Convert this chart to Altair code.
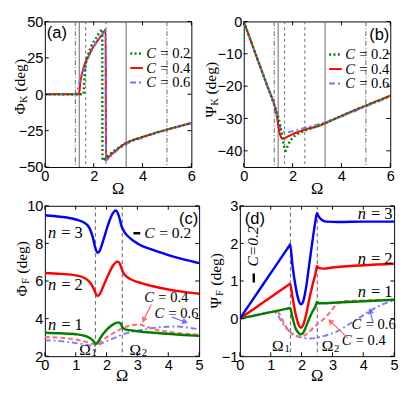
import math
import altair as alt
import pandas as pd

# ---------------- data ----------------
# vertical guide lines in (a) and (b)
K_DASHDOT = [1.25, 5.0]
K_SOLID = [1.41, 3.33]
K_DASHED = [1.67, 2.5]
# Omega_1 and Omega_2 in (c) and (d)
F_DASHED = [1.64, 2.51]

# (a) Phi_K
A_X_C02 = [0, 1.58, 1.60, 1.62, 1.67, 1.77, 1.9, 2.1, 2.29, 2.35, 2.36, 2.5, 2.6, 3.0, 3.3, 3.6, 4.0, 4.5, 5.0, 5.5, 6.0]
A_Y_C02 = [0, 0, 4, 10, 19.6, 27, 33, 38.6, 43.5, 44.5, -45.5, -43.5, -42, -37, -33.8, -31.6, -29.4, -26.7, -24.3, -22, -19.8]
A_X_C04 = [0, 1.40, 1.45, 1.52, 1.6, 1.7, 1.77, 1.9, 2.1, 2.29, 2.42, 2.49, 2.50, 2.6, 2.8, 3.0, 3.3, 3.6, 4.0, 4.5, 5.0, 5.5, 6.0]
A_Y_C04 = [0, 0, 8, 14, 19, 23.5, 25.5, 30, 35.4, 39.8, 42.8, 44.5, -45.5, -43.5, -40.2, -37.4, -33.8, -31.6, -29.4, -26.7, -24.3, -22, -19.8]
A_X_C06 = [0, 1.26, 1.32, 1.39, 1.45, 1.52, 1.6, 1.7, 1.8, 1.9, 2.1, 2.29, 2.42, 2.49, 2.50, 2.6, 2.8, 3.0, 3.3, 3.6, 4.0, 4.5, 5.0, 5.5, 6.0]
A_Y_C06 = [0, 0, 3, 6.5, 10, 14, 17.5, 22, 26, 29.5, 35, 39.6, 42.8, 44.5, -45.5, -44, -41, -38.2, -34.7, -32.2, -29.8, -27, -24.5, -22.2, -20.1]

# (b) Psi_K
B_X_C02 = [0, 0.5, 1.0, 1.28, 1.41, 1.5, 1.6, 1.66, 1.72, 1.8, 1.9, 2.0, 2.2, 2.5, 3.0, 3.4, 4.0, 4.5, 5.0, 5.5, 6.0]
B_Y_C02 = [0, -10.4, -20.7, -26.5, -29.5, -32.5, -36.5, -39, -40, -38.5, -37, -36, -34.8, -33.8, -32.4, -31.2, -29.2, -27.6, -26, -24.5, -22.9]
B_X_C04 = [0, 0.5, 1.0, 1.28, 1.36, 1.43, 1.5, 1.6, 1.7, 1.85, 2.0, 2.3, 2.6, 3.0, 3.4, 4.0, 4.5, 5.0, 5.5, 6.0]
B_Y_C04 = [0, -10.4, -20.7, -26.5, -29.5, -33, -35.3, -36.3, -36, -35.4, -34.8, -34, -33.2, -32.5, -31.3, -29.2, -27.6, -26, -24.5, -22.9]
B_X_C06 = [0, 0.5, 1.0, 1.28, 1.38, 1.46, 1.55, 1.65, 1.8, 2.0, 2.3, 2.6, 3.0, 3.4, 4.0, 4.5, 5.0, 5.5, 6.0]
B_Y_C06 = [0, -10.4, -20.7, -26.5, -29.5, -32, -33.6, -34.2, -34.2, -33.9, -33.3, -32.6, -31.9, -31, -29.4, -27.9, -26.3, -24.8, -23.2]

# (c) Phi_F
C_X_N3 = [0, 0.5, 1.0, 1.3, 1.45, 1.55, 1.62, 1.71, 1.78, 1.9, 2.05, 2.2, 2.3, 2.4, 2.48, 2.58, 2.75, 3.0, 3.5, 4.0, 4.5, 5.0]
C_Y_N3 = [9.5, 9.42, 9.27, 9.08, 8.8, 8.35, 7.85, 7.5, 7.62, 8.2, 9.0, 9.6, 9.75, 9.45, 8.95, 8.6, 8.3, 8.0, 7.65, 7.38, 7.15, 6.95]
C_X_N2 = [0, 0.5, 1.0, 1.3, 1.45, 1.55, 1.62, 1.7, 1.78, 1.9, 2.05, 2.2, 2.36, 2.45, 2.52, 2.6, 2.75, 3.0, 3.5, 4.0, 4.5, 5.0]
C_Y_N2 = [6.43, 6.38, 6.3, 6.15, 5.95, 5.7, 5.45, 5.2, 5.3, 5.75, 6.3, 6.8, 7.03, 6.85, 6.5, 6.3, 6.12, 5.95, 5.72, 5.55, 5.42, 5.32]
C_X_N1 = [0, 0.5, 1.0, 1.3, 1.45, 1.55, 1.65, 1.72, 1.8, 2.0, 2.2, 2.38, 2.46, 2.53, 2.6, 3.0, 3.5, 4.0, 4.5, 5.0]
C_Y_N1 = [3.25, 3.22, 3.17, 3.08, 2.97, 2.85, 2.65, 2.75, 2.98, 3.4, 3.68, 3.8, 3.72, 3.5, 3.43, 3.33, 3.25, 3.19, 3.13, 3.08]
C_X_C04 = [0, 0.5, 1.0, 1.3, 1.5, 1.64, 1.75, 1.9, 2.1, 2.3, 2.5, 2.75, 3.05, 3.25, 3.5, 4.0, 4.5, 5.0]
C_Y_C04 = [3.02, 2.98, 2.88, 2.78, 2.68, 2.62, 2.7, 2.88, 3.1, 3.3, 3.48, 3.62, 3.68, 3.6, 3.45, 3.3, 3.2, 3.14]
C_X_C06 = [0, 0.5, 1.0, 1.3, 1.5, 1.65, 1.8, 2.0, 2.3, 2.5, 3.0, 3.5, 4.0, 4.3, 4.6, 5.0]
C_Y_C06 = [2.85, 2.8, 2.7, 2.62, 2.57, 2.55, 2.65, 2.8, 3.0, 3.15, 3.35, 3.5, 3.57, 3.58, 3.53, 3.43]

# (d) Psi_F
D_X_N3 = [0, 0.5, 1.0, 1.5, 1.6, 1.63, 1.7, 1.8, 1.9, 1.98, 2.06, 2.15, 2.25, 2.35, 2.45, 2.5, 2.55, 2.65, 2.8, 3.2, 4.0, 5.0]
D_Y_N3 = [0, 0.604, 1.209, 1.813, 1.934, 1.97, 1.45, 0.88, 0.5, 0.38, 0.48, 0.85, 1.45, 2.05, 2.6, 2.8, 2.72, 2.63, 2.58, 2.57, 2.58, 2.58]
D_X_N2 = [0, 0.5, 1.0, 1.5, 1.6, 1.63, 1.7, 1.8, 1.9, 1.98, 2.06, 2.15, 2.25, 2.35, 2.45, 2.5, 2.55, 2.7, 3.0, 4.0, 5.0]
D_Y_N2 = [0, 0.285, 0.57, 0.856, 0.913, 0.93, 0.6, 0.15, -0.15, -0.24, -0.15, 0.12, 0.52, 0.88, 1.2, 1.4, 1.35, 1.33, 1.36, 1.42, 1.46]
D_X_N1 = [0, 0.5, 1.0, 1.5, 1.6, 1.63, 1.7, 1.8, 1.9, 1.97, 2.06, 2.15, 2.25, 2.35, 2.45, 2.5, 2.55, 2.7, 3.0, 4.0, 5.0]
D_Y_N1 = [0, 0.086, 0.172, 0.258, 0.275, 0.28, 0.05, -0.25, -0.38, -0.42, -0.37, -0.2, 0.0, 0.18, 0.33, 0.44, 0.41, 0.41, 0.42, 0.46, 0.5]
D_X_C04 = [0, 0.5, 1.0, 1.2, 1.3, 1.47, 1.62, 1.8, 2.0, 2.15, 2.34, 2.55, 2.75, 2.95, 3.17, 3.32, 3.6, 4.0, 5.0]
D_Y_C04 = [0, 0.086, 0.172, 0.2, 0.1, -0.19, -0.35, -0.46, -0.48, -0.42, -0.28, -0.12, 0.01, 0.2, 0.4, 0.46, 0.47, 0.48, 0.5]
D_X_C06 = [0, 0.5, 1.0, 1.1, 1.2, 1.35, 1.5, 1.7, 1.9, 2.1, 2.3, 2.6, 2.9, 3.2, 3.5, 3.86, 4.2, 4.5, 4.75, 5.0]
D_Y_C06 = [0, 0.086, 0.172, 0.18, 0.12, -0.08, -0.25, -0.4, -0.48, -0.52, -0.53, -0.49, -0.42, -0.32, -0.17, 0.01, 0.2, 0.33, 0.42, 0.49]

# tick values
K_XTICKS = [0, 2, 4, 6]
A_YTICKS = [-50, -25, 0, 25, 50]
B_YTICKS = [-40, -30, -20, -10, 0]
F_XTICKS = [0, 1, 2, 3, 4, 5]
C_YTICKS = [2, 4, 6, 8, 10]
D_YTICKS = [-1, 0, 1, 2, 3]

# annotation texts (data coordinates); each label = italic symbol + upright rest
LEGEND_VALUES = ["= 0.2", "= 0.4", "= 0.6"]
C_N_REST = ["= 3", "= 2", "= 1"]
C_N_X = [0.1, 0.1, 0.1]
C_N_Y = [8.54, 5.78, 3.67]
C_C_REST = ["= 0.2", "= 0.4", "= 0.6"]
C_C_X = [3.22, 3.22, 3.55]
C_C_Y = [8.54, 5.12, 4.3]
C_OM_X = [1.3, 2.93]
C_OM_Y = [2.34, 2.34]
D_N_REST = ["= 3", "= 2", "= 1"]
D_N_X = [4.95, 4.95, 4.95]
D_N_Y = [2.78, 1.58, 0.71]
D_C_REST = ["= 0.6", "= 0.4"]
D_C_X = [3.62, 3.3]
D_C_Y = [-0.16, -0.57]
D_OM_X = [1.23, 2.84]
D_OM_Y = [-0.73, -0.73]

# ---------------- styling ----------------
SERIF = "Liberation Serif"
SANS = "Liberation Sans"
GREEN = "#008000"
RED = "#ff0000"
BLUE = "#0000ff"
LRED = "#ff7070"
LBLUE = "#6f6fff"
GRAY = "#808080"
DOT = [2, 2.5]
DASHDOT = [6, 3, 2, 3]
DASH = [5, 3]

WA, HA = 151, 150
WB = 151
WC, HC = 159, 155
WD = 159

ONE = pd.DataFrame({"k": [0]})
EM_C, EM_N = 0.667, 0.5        # italic glyph widths (em)
GAP = 0.3                        # space around '=' (em)


def rest_width(s):
    w = {"=": 0.564, " ": 0.25, ".": 0.25}
    return sum(w.get(ch, 0.5) for ch in s)


def xenc(dom, ticks, field="x"):
    return alt.X(f"{field}:Q", scale=alt.Scale(domain=dom, nice=False, zero=False),
                 axis=alt.Axis(values=ticks, title=None, ticks=False, domain=False, grid=False,
                               labelFont=SANS, labelFontSize=15, labelColor="black",
                               labelPadding=2, labelOverlap=False, labelFlush=False))


def yenc(dom, ticks, field="y"):
    return alt.Y(f"{field}:Q", scale=alt.Scale(domain=dom, nice=False, zero=False),
                 axis=alt.Axis(values=ticks, title=None, ticks=False, domain=False, grid=False,
                               labelFont=SANS, labelFontSize=15, labelColor="black",
                               labelPadding=2, labelOverlap=False, labelFlush=False))


def curve(xs, ys, ex, ey, color, width, dash=None, opacity=1.0):
    props = dict(color=color, strokeWidth=width, interpolate="monotone", opacity=opacity, clip=True)
    if dash:
        props["strokeDash"] = dash
    return alt.Chart(pd.DataFrame({"x": xs, "y": ys})).mark_line(**props).encode(x=ex, y=ey)


def vlines(vals, ex, dash=None, color=GRAY, width=1.2):
    props = dict(color=color, strokeWidth=width)
    if dash:
        props["strokeDash"] = dash
    return alt.Chart(pd.DataFrame({"x": vals})).mark_rule(**props).encode(x=ex)


def inward_ticks(xdom, xticks, ydom, yticks, W, H, L=4):
    ext = xenc(xdom, xticks, "t")
    eyt = yenc(ydom, yticks, "t")
    dx = pd.DataFrame({"t": xticks})
    dy = pd.DataFrame({"t": yticks})
    m = dict(color="black", strokeWidth=1)
    return [
        alt.Chart(dx).mark_rule(**m).encode(x=ext, y=alt.value(H), y2=alt.value(H - L)),
        alt.Chart(dx).mark_rule(**m).encode(x=ext, y=alt.value(0), y2=alt.value(L)),
        alt.Chart(dy).mark_rule(**m).encode(y=eyt, x=alt.value(0), x2=alt.value(L)),
        alt.Chart(dy).mark_rule(**m).encode(y=eyt, x=alt.value(W), x2=alt.value(W - L)),
    ]


def ptext(t, x, y, **props):
    base = dict(font=SERIF, fontSize=16, color="black", align="center", baseline="middle")
    base.update(props)
    return alt.Chart(ONE).mark_text(text=t, **base).encode(x=alt.value(x), y=alt.value(y))


def dtext(labels, xs, ys, ex, ey, **props):
    base = dict(font=SERIF, fontSize=16, color="black", align="left", baseline="middle")
    base.update(props)
    df = pd.DataFrame({"x": xs, "y": ys, "t": labels})
    return alt.Chart(df).mark_text(**base).encode(x=ex, y=ey, text="t:N")


def sym_labels(sym, rests, xs, ys, ex, ey, size, align="left"):
    """italic symbol followed by upright '= value', placed at data coordinates"""
    em_sym = EM_C if sym == "C" else EM_N
    out = []
    if align == "left":
        out.append(dtext([sym] * len(rests), xs, ys, ex, ey, fontSize=size, fontStyle="italic"))
        out.append(dtext(rests, xs, ys, ex, ey, fontSize=size, dx=(em_sym + GAP) * size))
    else:
        out.append(dtext(rests, xs, ys, ex, ey, fontSize=size, align="right"))
        for r, x, y in zip(rests, xs, ys):
            out.append(dtext([sym], [x], [y], ex, ey, fontSize=size, fontStyle="italic",
                             align="right", dx=-(rest_width(r) + GAP) * size))
    return out


def ytitle(main, sub, cx, cy):
    return [
        ptext(main, cx, cy + 22.5, angle=270, fontSize=16),
        ptext(sub, cx + 4, cy + 12.5, angle=270, fontSize=11),
        ptext("(deg)", cx, cy - 12, angle=270, fontSize=16),
    ]


def omega_labels(xs, ys, ex, ey):
    return [
        dtext(["Ω", "Ω"], xs, ys, ex, ey, align="center", fontSize=16),
        dtext(["1", "2"], xs, ys, ex, ey, align="left", fontSize=11, dx=6.8, dy=3),
    ]


def legend(W, entries, y0, step, size=15):
    out = []
    for i, (val, col, dash, w) in enumerate(entries):
        y = y0 + step * i
        props = dict(color=col, strokeWidth=w)
        if dash:
            props["strokeDash"] = dash
        rw = rest_width(val) * size
        out.append(alt.Chart(ONE).mark_rule(**props).encode(
            x=alt.value(W - 63), x2=alt.value(W - 50), y=alt.value(y)))
        out.append(ptext(val, W - 1, y, align="right", fontSize=size))
        out.append(ptext("C", W - 1 - rw - GAP * size, y, align="right", fontSize=size,
                         fontStyle="italic"))
    return out


def arrow(x1, y1, x2, y2, ex, ey, color, kx, ky):
    df = pd.DataFrame({"x": [x1], "y": [y1], "x2": [x2], "y2": [y2]})
    rule = alt.Chart(df).mark_rule(color=color, strokeWidth=1.3).encode(
        x=ex, y=ey, x2=alt.X2("x2"), y2=alt.Y2("y2"))
    dxs = (x2 - x1) * kx
    dys = -(y2 - y1) * ky
    ang = math.degrees(math.atan2(dxs, -dys)) % 360
    head = alt.Chart(pd.DataFrame({"x": [x2], "y": [y2]})).mark_point(
        shape="triangle-up", filled=True, size=45, color=color, opacity=1, angle=ang
    ).encode(x=ex, y=ey)
    return [rule, head]


LEG = [(LEGEND_VALUES[0], GREEN, DOT, 2.5), (LEGEND_VALUES[1], RED, None, 2),
       (LEGEND_VALUES[2], LBLUE, DASHDOT, 2)]

# ---------------- panel (a) ----------------
exA = xenc([0, 6], K_XTICKS)
eyA = yenc([-50, 50], A_YTICKS)
pa = alt.layer(
    vlines(K_DASHDOT, exA, [5, 2, 1, 2]),
    vlines(K_SOLID, exA),
    vlines(K_DASHED, exA, [3, 3]),
    curve(A_X_C04, A_Y_C04, exA, eyA, RED, 2),
    curve(A_X_C06, A_Y_C06, exA, eyA, LBLUE, 2, DASHDOT, 0.9),
    curve(A_X_C02, A_Y_C02, exA, eyA, GREEN, 2.5, DOT),
    *inward_ticks([0, 6], K_XTICKS, [-50, 50], A_YTICKS, WA, HA),
    *legend(WA, LEG, 33, 15),
    *ytitle("Φ", "K", -25.5, 0.45 * HA),
    ptext("Ω", WA / 2, HA + 23, fontSize=17),
    ptext("(a)", 2, 12, align="left", font=SANS, fontSize=17),
    alt.Chart(ONE).mark_rule(opacity=0).encode(x=alt.value(-37), x2=alt.value(-36), y=alt.value(20)),
).properties(width=WA, height=HA)

# ---------------- panel (b) ----------------
exB = xenc([0, 6], K_XTICKS)
eyB = yenc([-45, 0], B_YTICKS)
pb = alt.layer(
    vlines(K_DASHDOT, exB, [5, 2, 1, 2]),
    vlines(K_SOLID, exB),
    vlines(K_DASHED, exB, [3, 3]),
    curve(B_X_C04, B_Y_C04, exB, eyB, RED, 2),
    curve(B_X_C06, B_Y_C06, exB, eyB, LBLUE, 2, DASHDOT, 0.9),
    curve(B_X_C02, B_Y_C02, exB, eyB, GREEN, 2.5, DOT),
    *inward_ticks([0, 6], K_XTICKS, [-45, 0], B_YTICKS, WB, HA),
    *legend(WB, LEG, 34, 15),
    *ytitle("Ψ", "K", -33.5, 0.47 * HA),
    ptext("Ω", WB / 2, HA + 23, fontSize=17),
    ptext("(b)", WB - 1, 14, align="right", font=SANS, fontSize=17),
).properties(width=WB, height=HA)

# ---------------- panel (c) ----------------
exC = xenc([0, 5], F_XTICKS)
eyC = yenc([2, 10], C_YTICKS)
kxC, kyC = WC / 5, HC / 8
pc = alt.layer(
    vlines(F_DASHED, exC, [4, 3], color="#777777", width=1.2),
    curve(C_X_C06, C_Y_C06, exC, eyC, LBLUE, 2, DASHDOT, 0.9),
    curve(C_X_C04, C_Y_C04, exC, eyC, LRED, 2.2, DASH),
    curve(C_X_N1, C_Y_N1, exC, eyC, GREEN, 2.5),
    curve(C_X_N2, C_Y_N2, exC, eyC, RED, 2.5),
    curve(C_X_N3, C_Y_N3, exC, eyC, BLUE, 2.5),
    *inward_ticks([0, 5], F_XTICKS, [2, 10], C_YTICKS, WC, HC),
    *sym_labels("n", C_N_REST, C_N_X, C_N_Y, exC, eyC, 17),
    *sym_labels("C", C_C_REST[:1], C_C_X[:1], C_C_Y[:1], exC, eyC, 16),
    *sym_labels("C", C_C_REST[1:], C_C_X[1:], C_C_Y[1:], exC, eyC, 15),
    alt.Chart(pd.DataFrame({"x": [2.87], "x2": [3.09], "y": [8.54]})).mark_rule(
        color="black", strokeWidth=2.5).encode(x=exC, x2=alt.X2("x2"), y=eyC),
    *omega_labels(C_OM_X, C_OM_Y, exC, eyC),
    *arrow(3.45, 4.75, 3.2, 3.92, exC, eyC, LRED, kxC, kyC),
    *arrow(4.12, 4.08, 4.55, 3.82, exC, eyC, LBLUE, kxC, kyC),
    *ytitle("Φ", "F", -23.3, 0.42 * HC),
    ptext("Ω", WC / 2, HC + 21, fontSize=17),
    ptext("(c)", WC - 1, 14, align="right", font=SANS, fontSize=17),
).properties(width=WC, height=HC)

# ---------------- panel (d) ----------------
exD = xenc([0, 5], F_XTICKS)
eyD = yenc([-1, 3], D_YTICKS)
kxD, kyD = WD / 5, HC / 4
pd_ = alt.layer(
    vlines(F_DASHED, exD, [4, 3], color="#777777", width=1.2),
    curve(D_X_C06, D_Y_C06, exD, eyD, LBLUE, 2, DASHDOT, 0.9),
    curve(D_X_C04, D_Y_C04, exD, eyD, LRED, 2.2, DASH),
    curve(D_X_N1, D_Y_N1, exD, eyD, GREEN, 2.5),
    curve(D_X_N2, D_Y_N2, exD, eyD, RED, 2.5),
    curve(D_X_N3, D_Y_N3, exD, eyD, BLUE, 2.5),
    *inward_ticks([0, 5], F_XTICKS, [-1, 3], D_YTICKS, WD, HC),
    *sym_labels("n", D_N_REST, D_N_X, D_N_Y, exD, eyD, 17, align="right"),
    *sym_labels("C", D_C_REST, D_C_X, D_C_Y, exD, eyD, 15),
    dtext(["C=0.2"], [0.44], [1.92], exD, eyD, fontSize=16, align="center", angle=270,
          fontStyle="italic"),
    alt.Chart(pd.DataFrame({"x": [0.45], "y": [0.96], "y2": [1.2]})).mark_rule(
        color="black", strokeWidth=2.5).encode(x=exD, y=eyD, y2=alt.Y2("y2")),
    *omega_labels(D_OM_X, D_OM_Y, exD, eyD),
    *arrow(3.5, -0.52, 2.93, -0.07, exD, eyD, LRED, kxD, kyD),
    *arrow(4.32, -0.12, 4.22, 0.2, exD, eyD, LBLUE, kxD, kyD),
    *ytitle("Ψ", "F", -24, 0.5 * HC),
    ptext("Ω", WD / 2, HC + 21, fontSize=17),
    ptext("(d)", 5, 14, align="left", font=SANS, fontSize=17),
).properties(width=WD, height=HC)

top = alt.hconcat(pa, pb, spacing=54, bounds="flush")
bottom = alt.hconcat(pc, pd_, spacing=42, bounds="flush")
chart = alt.vconcat(top, bottom, spacing=0).properties(padding=0).configure_view(
    stroke="black", strokeWidth=1)

chart.save("out.html", embed_options={"renderer": "svg", "actions": False})
